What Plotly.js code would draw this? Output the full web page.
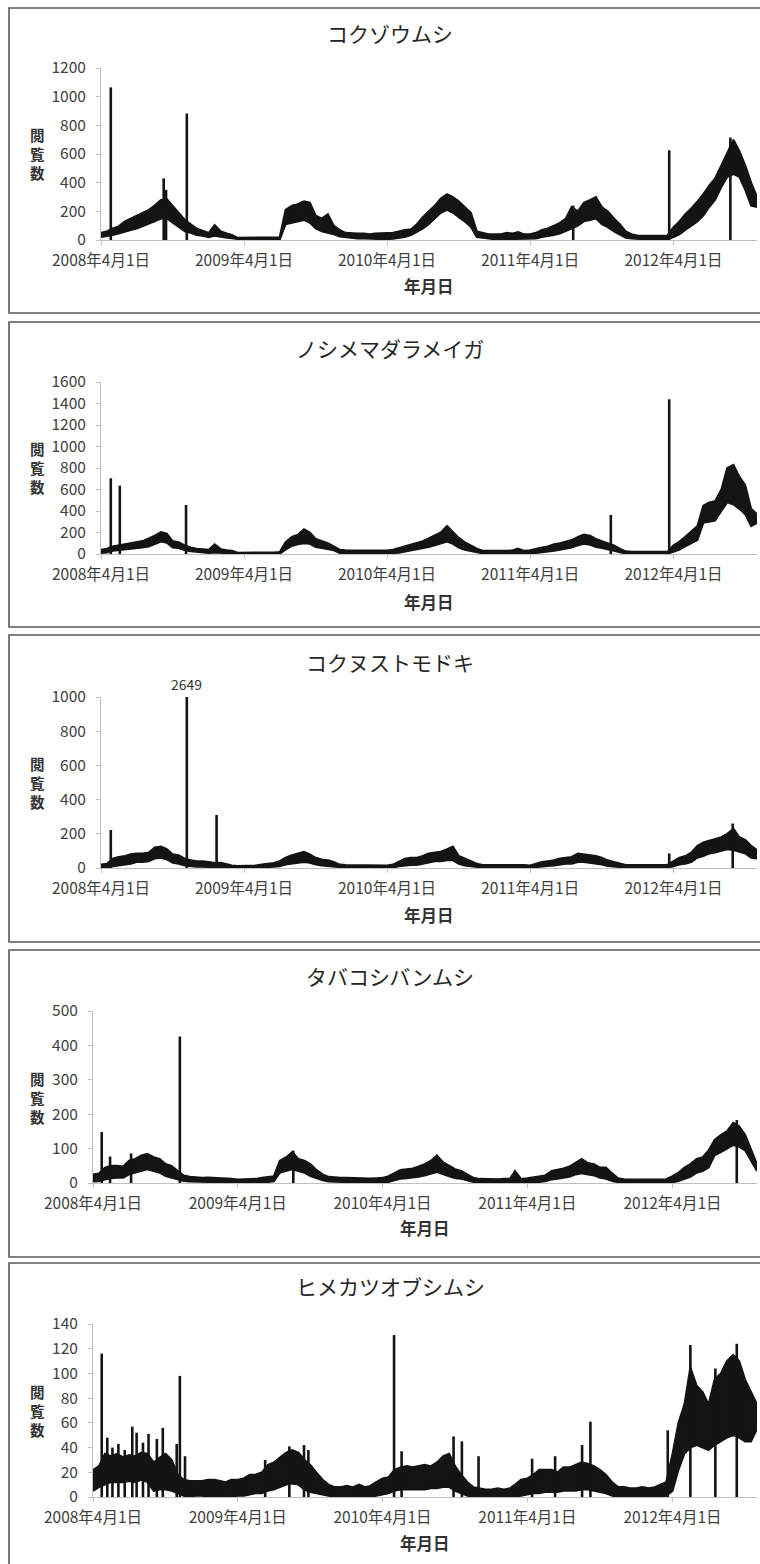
<!DOCTYPE html>
<html><head><meta charset="utf-8">
<script src="https://cdn.plot.ly/plotly-3.0.1.min.js"></script>
<style>html,body{margin:0;padding:0;background:#fff}#chart{width:760px;height:1564px}</style>
</head><body><div id="chart"></div>
<script>
// Semi-monthly sampling dates (upper / lower envelope of the daily page-view band)
const dates = [
 "2008-04-01","2008-04-16","2008-05-01","2008-05-16","2008-06-01","2008-06-16","2008-07-01","2008-07-16","2008-08-01","2008-08-16","2008-09-01","2008-09-16","2008-10-01","2008-10-16","2008-11-01","2008-11-16","2008-12-01","2008-12-16",
 "2009-01-01","2009-01-16","2009-02-01","2009-02-16","2009-03-01","2009-03-16","2009-04-01","2009-04-16","2009-05-01","2009-05-16","2009-06-01","2009-06-16","2009-07-01","2009-07-16","2009-08-01","2009-08-16","2009-09-01","2009-09-16","2009-10-01","2009-10-16","2009-11-01","2009-11-16","2009-12-01","2009-12-16",
 "2010-01-01","2010-01-16","2010-02-01","2010-02-16","2010-03-01","2010-03-16","2010-04-01","2010-04-16","2010-05-01","2010-05-16","2010-06-01","2010-06-16","2010-07-01","2010-07-16","2010-08-01","2010-08-16","2010-09-01","2010-09-16","2010-10-01","2010-10-16","2010-11-01","2010-11-16","2010-12-01","2010-12-16",
 "2011-01-01","2011-01-16","2011-02-01","2011-02-16","2011-03-01","2011-03-16","2011-04-01","2011-04-16","2011-05-01","2011-05-16","2011-06-01","2011-06-16","2011-07-01","2011-07-16","2011-08-01","2011-08-16","2011-09-01","2011-09-16","2011-10-01","2011-10-16","2011-11-01","2011-11-16","2011-12-01","2011-12-16",
 "2012-01-01","2012-01-16","2012-02-01","2012-02-16","2012-03-01","2012-03-16","2012-04-01","2012-04-16","2012-05-01","2012-05-16","2012-06-01","2012-06-16","2012-07-01","2012-07-16","2012-08-01","2012-08-16","2012-09-01","2012-09-16","2012-10-01","2012-10-16","2012-10-31"
];
const tickDates = ["2008-04-01","2009-04-01","2010-04-01","2011-04-01","2012-04-01"];
const tickLabels = ["2008年4月1日","2009年4月1日","2010年4月1日","2011年4月1日","2012年4月1日"];
const xRange = ["2008-04-01","2012-10-31"];
const xTitle = "年月日";
const yTitle = "閲<br>覧<br>数";

// 1. コクゾウムシ
const kokuzoUpper = [50,60,80,95,130,150,165,190,210,240,280,285,240,190,140,110,80,65,
 50,105,60,45,35,15,15,15,18,15,18,20,20,210,240,250,270,260,170,150,180,100,70,50,
 46,45,46,40,45,46,45,50,60,70,75,110,160,200,240,290,320,300,270,230,190,60,50,40,
 40,40,50,45,55,40,40,50,70,80,100,120,150,230,200,260,280,300,230,200,150,110,60,40,
 30,30,30,30,35,30,90,130,180,220,270,320,380,430,520,610,700,620,520,400,300];
const kokuzoLower = [20,25,35,45,60,70,80,95,110,130,150,150,120,90,60,50,35,30,
 20,30,20,15,12,5,0,0,0,0,0,0,0,110,120,130,140,120,80,60,50,40,25,20,
 10,10,10,8,10,8,5,8,15,20,35,55,80,110,150,190,210,190,160,130,90,20,15,8,
 5,5,5,5,8,5,5,10,20,25,35,45,60,80,100,130,140,150,110,90,60,40,15,10,
 5,5,5,5,5,5,20,40,70,100,130,170,230,280,370,440,460,440,350,240,230];
const kokuzoSpikeDates = ["2008-04-26","2008-09-08","2008-09-14","2008-11-06","2011-07-20","2012-03-21","2012-08-24"];
const kokuzoSpikeValues = [1065,430,350,882,240,626,715];

// 2. ノシメマダラメイガ
const noshimeUpper = [40,50,70,80,85,95,105,120,145,170,205,190,120,110,80,60,50,45,
 40,90,45,35,30,12,12,10,12,12,15,15,18,110,160,180,230,200,140,120,100,70,40,35,
 35,35,35,35,35,32,32,40,55,70,85,100,120,145,170,200,260,200,150,110,75,50,30,28,
 28,30,30,35,50,30,35,50,60,70,90,100,115,130,160,180,170,140,120,100,80,50,25,22,
 22,22,20,22,20,20,80,115,160,210,260,450,480,490,600,800,830,720,640,420,370];
const noshimeLower = [10,15,30,35,40,45,55,60,70,90,115,105,60,55,35,25,20,15,
 10,15,10,8,5,0,0,0,0,0,0,0,2,40,75,90,100,95,65,55,45,35,10,8,
 6,6,6,6,6,5,5,8,12,22,30,40,50,65,80,100,115,95,60,40,30,15,5,5,
 4,4,4,4,5,4,5,10,15,22,30,40,50,60,80,95,85,65,55,45,30,15,4,3,
 3,3,3,3,3,3,20,40,70,100,130,290,300,310,400,480,460,420,370,260,290];
const noshimeSpikeDates = ["2008-04-26","2008-05-19","2008-11-04","2011-10-24","2012-03-21"];
const noshimeSpikeValues = [704,636,456,363,1439];

// 3. コクヌストモドキ
const kokunusutoUpper = [20,25,55,65,70,80,85,85,90,120,125,110,80,75,55,45,40,40,
 35,30,30,20,15,12,12,12,15,20,25,30,40,60,75,85,95,80,60,50,45,35,20,18,
 18,18,15,18,15,15,15,20,40,55,60,60,70,85,90,95,110,125,70,55,40,25,18,18,
 18,18,20,18,22,18,15,25,35,40,45,55,60,65,85,80,75,70,60,45,35,25,18,18,
 18,18,18,15,18,18,40,60,70,90,130,150,160,170,180,200,230,180,165,130,105];
const kokunusutoLower = [0,5,10,15,20,25,35,35,40,55,60,50,30,25,15,10,8,8,
 5,3,3,0,0,0,0,0,0,2,5,8,10,20,25,30,35,30,20,15,12,8,3,2,
 2,2,0,2,0,0,0,3,10,15,18,18,25,35,40,40,45,45,25,15,10,5,2,2,
 2,2,2,2,3,2,0,5,10,12,15,20,25,25,35,35,30,28,20,12,8,5,2,2,
 2,2,2,0,2,2,10,20,25,35,60,70,85,90,100,110,105,95,85,60,55];
const kokunusutoSpikeDates = ["2008-04-26","2008-11-06","2009-01-21","2012-03-21","2012-08-30"];
const kokunusutoSpikeValues = [222,2649,310,85,260];

// 4. タバコシバンムシ
const tabakoUpper = [25,28,45,50,50,48,65,70,80,85,75,70,55,50,35,22,18,16,
 15,16,15,15,13,12,10,10,12,12,15,17,20,65,75,90,70,65,55,38,25,18,16,15,
 15,14,14,14,13,14,15,20,30,38,40,42,48,55,65,80,60,50,40,35,25,15,12,11,
 11,11,12,12,35,12,14,17,18,22,35,38,42,48,60,70,58,55,45,45,28,14,11,10,
 10,10,10,10,12,11,20,30,45,55,70,75,95,125,140,150,175,165,140,100,55];
const tabakoLower = [4,5,10,14,15,15,25,30,35,40,35,30,20,15,10,6,4,3,
 3,3,2,2,2,1,0,0,0,1,2,3,5,30,35,40,35,30,20,14,8,4,3,2,
 2,2,2,1,1,1,1,3,8,12,14,15,18,22,28,32,25,20,14,12,8,3,2,1,
 1,1,1,1,2,1,1,2,3,5,10,12,14,18,25,28,25,22,15,12,6,2,1,1,
 1,1,1,1,1,1,2,6,12,18,30,35,45,80,90,100,110,105,95,65,35];
const tabakoSpikeDates = ["2008-04-23","2008-05-14","2008-07-06","2008-11-06","2009-08-19","2012-09-10"];
const tabakoSpikeValues = [148,77,86,426,94,183];

// 5. ヒメカツオブシムシ
const himeUpper = [22,25,35,33,35,32,34,33,36,35,28,32,35,30,18,14,13,13,
 13,14,14,13,12,14,14,15,18,18,20,26,28,32,36,38,36,30,26,20,14,10,8,8,
 9,8,10,8,9,12,15,16,22,24,25,24,25,26,25,28,33,35,25,18,12,8,7,6,
 6,7,6,7,10,14,15,18,22,22,22,20,24,24,26,28,27,25,22,18,12,8,8,7,
 7,8,7,8,10,12,35,60,75,105,90,85,75,95,100,110,115,110,95,85,75];
const himeLower = [5,8,10,12,12,12,13,12,14,12,5,6,6,5,3,1,0,1,
 1,0,1,0,0,0,1,1,2,3,3,5,6,8,10,11,10,6,4,3,2,1,0,0,
 0,0,0,0,0,1,2,3,5,6,6,6,6,6,7,7,8,8,5,3,1,0,0,0,
 0,0,0,0,0,1,2,3,3,4,4,4,5,5,5,6,6,5,4,3,1,0,0,0,
 0,0,0,0,0,1,5,22,35,40,42,40,38,42,45,48,50,48,45,45,55];
const himeSpikeDates = ["2008-04-23","2008-05-07","2008-05-20","2008-06-04","2008-06-20","2008-07-09","2008-07-20","2008-08-05","2008-08-19","2008-09-09","2008-09-24","2008-10-29","2008-11-06","2008-11-19",
 "2009-06-09","2009-08-09","2009-09-15","2009-09-26","2010-04-30","2010-05-19","2010-09-27","2010-10-18","2010-11-29",
 "2011-04-13","2011-06-10","2011-08-17","2011-09-07","2012-03-20","2012-05-16","2012-07-18","2012-09-10"];
const himeSpikeValues = [116,48,40,43,38,57,52,44,51,47,56,43,98,33,
 30,41,42,38,131,37,49,45,33,
 31,33,42,61,54,123,104,124];

const panels = [
 {title:"コクゾウムシ", upper:kokuzoUpper, lower:kokuzoLower, sd:kokuzoSpikeDates, sv:kokuzoSpikeValues, ymax:1200, dtick:200},
 {title:"ノシメマダラメイガ", upper:noshimeUpper, lower:noshimeLower, sd:noshimeSpikeDates, sv:noshimeSpikeValues, ymax:1600, dtick:200},
 {title:"コクヌストモドキ", upper:kokunusutoUpper, lower:kokunusutoLower, sd:kokunusutoSpikeDates, sv:kokunusutoSpikeValues, ymax:1000, dtick:200},
 {title:"タバコシバンムシ", upper:tabakoUpper, lower:tabakoLower, sd:tabakoSpikeDates, sv:tabakoSpikeValues, ymax:500, dtick:100},
 {title:"ヒメカツオブシムシ", upper:himeUpper, lower:himeLower, sd:himeSpikeDates, sv:himeSpikeValues, ymax:140, dtick:20}
];

// Layout geometry (pixels)
const W = 760, H = 1564, RIGHT = 757;
const geom = [
 {left:101, top:68,   bottom:240,  boxTop:8,    boxBottom:313,  titleY:33,   xTitleY:286},
 {left:101, top:382,  bottom:554,  boxTop:322,  boxBottom:627,  titleY:348,  xTitleY:602},
 {left:101, top:697,  bottom:868,  boxTop:635,  boxBottom:942,  titleY:662,  xTitleY:915},
 {left:93,  top:1011, bottom:1183, boxTop:950,  boxBottom:1257, titleY:976,  xTitleY:1228},
 {left:93,  top:1324, bottom:1497, boxTop:1263, boxBottom:1580, titleY:1286, xTitleY:1543}
];
const px = v => v / W, py = v => 1 - v / H;
const FONT = "Noto Sans CJK JP, Noto Sans, sans-serif";

const traces = [], shapes = [], annotations = [];
const layout = {
  width: W, height: H, margin:{l:0,r:0,t:0,b:0},
  paper_bgcolor:"#fff", plot_bgcolor:"#fff", showlegend:false,
  font:{family:FONT, color:"#404040"}
};

panels.forEach((p, i) => {
  const g = geom[i];
  const xa = i === 0 ? "x" : "x" + (i + 1);
  const ya = i === 0 ? "y" : "y" + (i + 1);
  const xk = i === 0 ? "xaxis" : "xaxis" + (i + 1);
  const yk = i === 0 ? "yaxis" : "yaxis" + (i + 1);

  traces.push({type:"scatter", mode:"lines", x:dates, y:p.lower, xaxis:xa, yaxis:ya,
    line:{color:"#141414", width:2}, hoverinfo:"skip"});
  traces.push({type:"scatter", mode:"lines", x:dates, y:p.upper, xaxis:xa, yaxis:ya,
    fill:"tonexty", fillcolor:"#141414", line:{color:"#141414", width:2}, hoverinfo:"skip"});
  const sx = [], sy = [];
  p.sd.forEach((d, k) => { sx.push(d, d, null); sy.push(0, p.sv[k], null); });
  traces.push({type:"scatter", mode:"lines", x:sx, y:sy, xaxis:xa, yaxis:ya,
    line:{color:"#141414", width:2.6}, connectgaps:false, hoverinfo:"skip"});

  layout[xk] = {
    type:"date", range:xRange, domain:[px(g.left), px(RIGHT)], anchor:ya,
    tickmode:"array", tickvals:tickDates, ticktext:tickLabels,
    showline:true, linecolor:"#c0c0c0", linewidth:1, ticks:"outside", ticklen:4, tickcolor:"#c0c0c0",
    showgrid:false, zeroline:false, tickfont:{family:FONT, size:15.5, color:"#404040"},
    ticklabelstandoff:2, fixedrange:true
  };
  layout[yk] = {
    range:[0, p.ymax], dtick:p.dtick, tick0:0, domain:[py(g.bottom), py(g.top)], anchor:xa,
    showline:true, linecolor:"#c0c0c0", linewidth:1, ticks:"outside", ticklen:4, tickcolor:"#c0c0c0",
    showgrid:false, zeroline:false, tickfont:{family:FONT, size:15.5, color:"#404040"},
    ticklabelstandoff:7, fixedrange:true
  };

  shapes.push({type:"rect", xref:"paper", yref:"paper", x0:px(9), x1:px(768), y0:py(g.boxBottom), y1:py(g.boxTop),
    line:{color:"#5a5a5a", width:1.6}, fillcolor:"rgba(0,0,0,0)", layer:"below"});

  annotations.push({xref:"paper", yref:"paper", x:px(390), y:py(g.titleY), xanchor:"center", yanchor:"middle",
    text:p.title, showarrow:false, font:{family:FONT, size:21, color:"#262626"}});
  annotations.push({xref:"paper", yref:"paper", x:px((g.left + RIGHT) / 2), y:py(g.xTitleY), xanchor:"center", yanchor:"middle",
    text:"<b>" + xTitle + "</b>", showarrow:false, font:{family:FONT, size:16.5, color:"#333"}});
  annotations.push({xref:"paper", yref:"paper", x:px(37), y:py((g.top + g.bottom) / 2), xanchor:"center", yanchor:"middle",
    text:"<b>" + yTitle + "</b>", showarrow:false, font:{family:FONT, size:14.5, color:"#333"}});
});

// value label of the clipped spike in panel 3
const clippedIdx = kokunusutoSpikeValues.indexOf(2649);
annotations.push({xref:"x3", yref:"y3", x:kokunusutoSpikeDates[clippedIdx], y:1000, yanchor:"bottom", yshift:1,
  text:String(kokunusutoSpikeValues[clippedIdx]), showarrow:false, font:{family:FONT, size:14, color:"#333"}});

layout.shapes = shapes;
layout.annotations = annotations;
Plotly.newPlot("chart", traces, layout, {staticPlot:true, displayModeBar:false});
</script>
</body></html>
